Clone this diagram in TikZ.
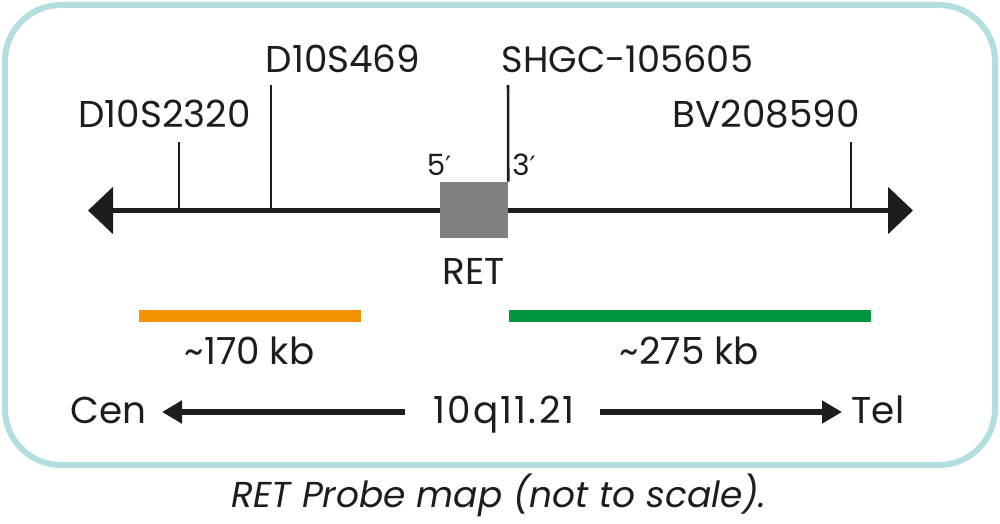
\documentclass[tikz,border=0pt]{standalone}
\usepackage{fontspec}
\setmainfont{Poppins}
\newfontfamily\primefont{DejaVu Sans}
\usetikzlibrary{arrows.meta}
\definecolor{frame}{HTML}{B3DEE0}
\definecolor{ink}{HTML}{1D1D1B}
\definecolor{probeO}{HTML}{F39200}
\definecolor{probeG}{HTML}{009640}
\definecolor{boxgray}{HTML}{808080}
\newcommand{\pr}{{\primefont\fontsize{20pt}{24pt}\selectfont ′}}
\tikzset{
  lbl/.style={inner sep=0pt, anchor=base, text=ink, font=\fontsize{28pt}{32pt}\selectfont},
  small/.style={inner sep=0pt, anchor=base, text=ink, font=\fontsize{22pt}{26pt}\selectfont},
  capt/.style={inner sep=0pt, anchor=base, text=ink, font=\fontsize{27pt}{31pt}\selectfont\itshape},
  chrom/.style={draw=ink, line width=4.2pt, -{Triangle[length=18.75pt,width=34.5pt]}},
  band/.style={draw=ink, line width=4.5pt, -{Triangle[length=15pt,width=16.5pt]}},
  tick/.style={draw=ink, line width=1.9pt},
  probe/.style={line width=8.5pt},
}
\begin{document}
\begin{tikzpicture}[x=0.75pt,y=-0.75pt]
\useasboundingbox (0,0) rectangle (1000,524);
% frame
\draw[frame, line width=4.5pt, rounded corners=42pt] (5,5) rectangle (995,465);
% chromosome line
\coordinate (lTip) at (88,210.5);
\coordinate (rTip) at (913,210.5);
\coordinate (mid) at (500,210.5);
\draw[chrom] (mid) -- (lTip);
\draw[chrom] (mid) -- (rTip);
% RET box
\node[fill=boxgray, minimum width=51pt, minimum height=42pt, inner sep=0pt] (retbox) at (474,210) {};
% ticks
\coordinate (t1a) at (179,142); \coordinate (t1b) at (179,210.5);
\coordinate (t2a) at (271,85);  \coordinate (t2b) at (271,210.5);
\coordinate (t3a) at (508,85);
\coordinate (t4a) at (851,142); \coordinate (t4b) at (851,210.5);
\draw[tick] (t1a) -- (t1b);
\draw[tick] (t2a) -- (t2b);
\draw[tick] (t3a) -- (retbox.north east);
\draw[tick] (t4a) -- (t4b);
% marker labels
\node[lbl] (d2320) at (164.5,128) {D10S2320};
\node[lbl] (d469) at (343,73) {D10S469};
\node[lbl, font=\fontsize{27.5pt}{32pt}\selectfont] (shgc) at (627.5,73) {SHGC-105605};
\node[lbl] (bv) at (766,128) {BV208590};
\node[small] (five) at (439,176) {5\pr};
\node[small] (three) at (524,176) {3\pr};
\node[lbl] (retlbl) at (474,285) {RET};
% probes
\coordinate (oA) at (139,316); \coordinate (oB) at (361,316);
\coordinate (gA) at (509,316); \coordinate (gB) at (871,316);
\draw[probe, probeO] (oA) -- (oB);
\draw[probe, probeG] (gA) -- (gB);
\node[lbl] (kb170) at (249.5,364) {\textasciitilde170 kb};
\node[lbl] (kb275) at (689.5,364) {\textasciitilde275 kb};
% band
\node[lbl] (cen) at (108.5,423) {Cen};
\node[lbl, font=\fontsize{28pt}{32pt}\selectfont\addfontfeatures{LetterSpace=6}] (band) at (504,423) {10q11.21};
\node[lbl] (tel) at (878,423) {Tel};
\coordinate (bl0) at (405,412); \coordinate (blTip) at (162,412);
\coordinate (br0) at (600,412); \coordinate (brTip) at (842,412);
\draw[band] (bl0) -- (blTip);
\draw[band] (br0) -- (brTip);
% caption
\node[capt] (caption) at (499,507) {RET Probe map (not to scale).};
\end{tikzpicture}
\end{document}
